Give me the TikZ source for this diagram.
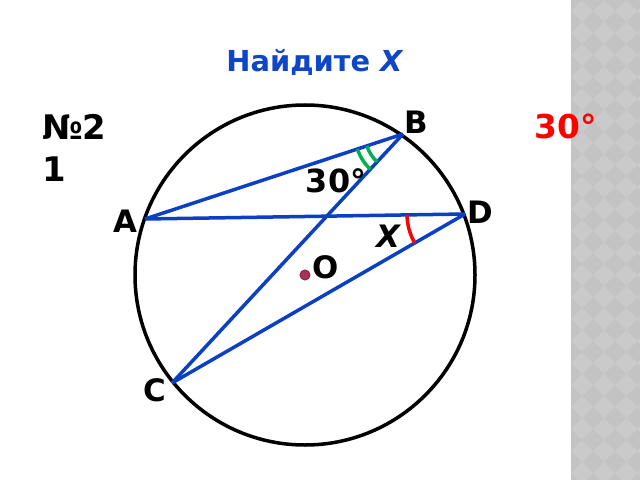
\documentclass[tikz,border=0pt]{standalone}
\usepackage{fontspec}
\setmainfont{DejaVu Sans}
\usetikzlibrary{angles}
\definecolor{chordblue}{HTML}{0B3FC4}
\definecolor{titleblue}{HTML}{0F46C8}
\definecolor{markgreen}{HTML}{00B050}
\definecolor{dotred}{HTML}{A83257}
\definecolor{stripdark}{HTML}{C3C3C3}
\definecolor{striplight}{HTML}{CACACA}
\begin{document}
\begin{tikzpicture}[x=1bp, y=-1bp,
    chord/.style={draw=chordblue, line width=3.5bp},
    point/.style={font=\fontsize{31}{37}\selectfont\bfseries, inner sep=0pt},
    anglemark/.style={draw, line width=3.5bp}]

    \useasboundingbox (0,0) rectangle (640,480);
    % side strip
    \fill[stripdark] (571,0) rectangle (640,480);
    \begin{scope}
      \clip (571,0) rectangle (640,480);
      \foreach \i in {0,...,3}
        \foreach \j in {0,...,22}
          \fill[striplight] (582+22*\i,22*\j) -- ++(11,11) -- ++(-11,11) -- ++(-11,-11) -- cycle;
    \end{scope}

    \node [text=titleblue, font=\fontsize{29}{34}\selectfont\bfseries] (title) at (315,62) {Найдите \textit{X}};
    \node [font=\fontsize{34}{42}\selectfont\bfseries, align=left, anchor=north west, inner sep=0pt] (num) at (42,114) {№2\\1};
    \node [text=red, font=\fontsize{33}{39}\selectfont\bfseries, inner sep=0pt] (given) at (566,126) {30°};

    \coordinate (O) at (305,275);
    \draw[line width=3.5bp] (O) circle (170);
    \coordinate (B) at (403,134);
    \coordinate (A) at (145,219);
    \coordinate (D) at (465,214);
    \coordinate (C) at (172,383);

    \path[chord]
      (B) edge (A)
      (B) edge (C)
      (A) edge (D)
      (D) edge (C);

    \pic [anglemark, draw=markgreen, angle radius=38bp] {angle=A--B--C};
    \pic [anglemark, draw=markgreen, angle radius=48bp] {angle=A--B--C};
    \pic [anglemark, draw=red, angle radius=58bp] {angle=A--D--C};

    \fill[dotred, draw=dotred!80!black, line width=1bp] (O) circle (5);

    \node [point] (lB) at (416,122) {B};
    \node [point] (lA) at (125,221) {A};
    \node [point] (lD) at (480,212) {D};
    \node [point] (lC) at (155,390) {C};
    \node [point] (lO) at (326,267) {O};
    \node [point, font=\fontsize{32}{38}\selectfont\bfseries] (lab) at (336,181) {30°};
    \node [point, font=\fontsize{31}{37}\selectfont\bfseries\itshape] (lx) at (388,236) {X};
\end{tikzpicture}
\end{document}
